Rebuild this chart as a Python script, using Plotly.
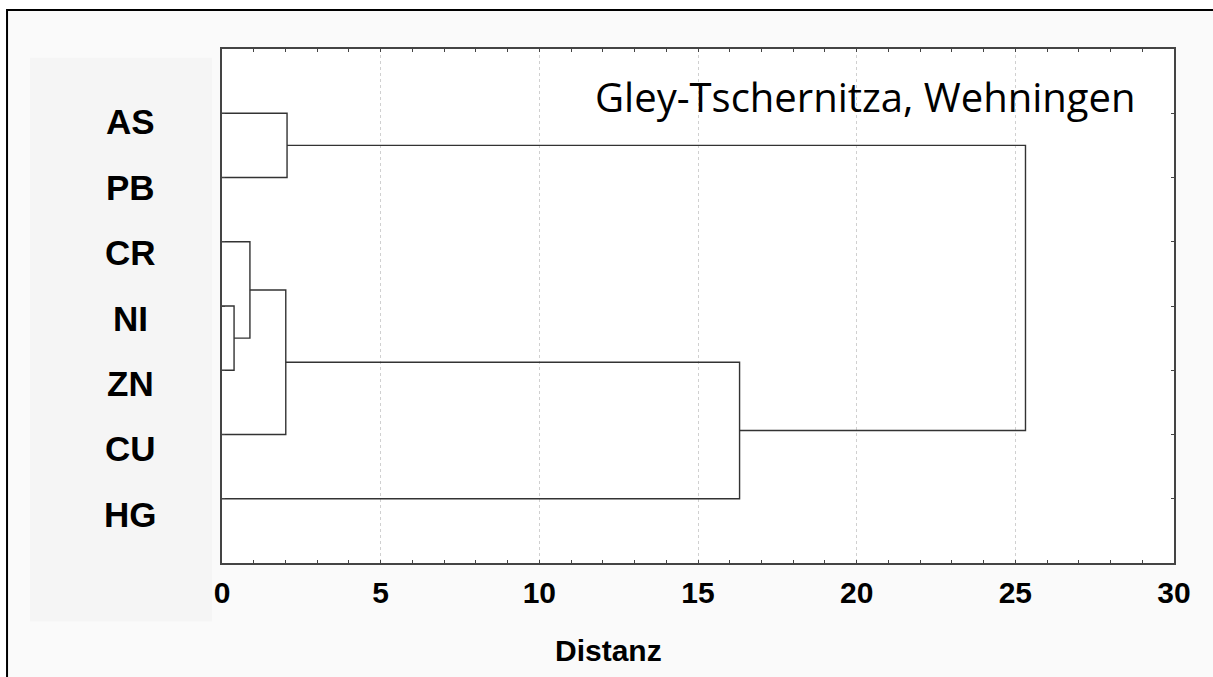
import plotly.graph_objects as go

# ---- data -------------------------------------------------------------
leaves = ["AS", "PB", "CR", "NI", "ZN", "CU", "HG"]
# agglomeration steps: node ids 0..6 are leaves, 7.. are clusters in order
link_a = [3, 2, 8, 0, 9, 10]
link_b = [4, 7, 5, 1, 6, 11]
link_dist = [0.38, 0.88, 2.01, 2.05, 16.31, 25.32]
x_ticks = [0, 5, 10, 15, 20, 25, 30]
title_text = "Gley-Tschernitza, Wehningen"
x_title = "Distanz"

# ---- dendrogram geometry ---------------------------------------------
n = len(leaves)
node_y = {i: float(i) for i in range(n)}
node_h = {i: 0.0 for i in range(n)}
xs, ys = [], []
for k, (a, b, d) in enumerate(zip(link_a, link_b, link_dist)):
    xs += [node_h[a], d, d, node_h[b], None]
    ys += [node_y[a], node_y[a], node_y[b], node_y[b], None]
    node_y[n + k] = (node_y[a] + node_y[b]) / 2
    node_h[n + k] = d

fig = go.Figure()
fig.add_trace(go.Scatter(x=xs, y=ys, mode="lines",
                         line=dict(color="#333333", width=1.4),
                         hoverinfo="skip", showlegend=False))

FONT_B = "Liberation Sans, Arial, sans-serif"

fig.update_layout(
    width=1213, height=677,
    margin=dict(l=222, r=39, t=49, b=114),
    paper_bgcolor="white",
    plot_bgcolor="rgba(0,0,0,0)",
    showlegend=False,
    xaxis=dict(
        range=[0, 30], tickvals=x_ticks, ticktext=[str(v) for v in x_ticks],
        ticks="inside", ticklen=3, tickwidth=1, tickcolor="#444",
        minor=dict(dtick=1, ticks="inside", ticklen=3, tickcolor="#444", showgrid=False),
        showline=True, linecolor="#444", linewidth=1.5, mirror="ticks",
        showgrid=True, gridcolor="#d0d0d0", griddash="dot", gridwidth=1,
        zeroline=False,
        tickfont=dict(family=FONT_B, size=30, color="black", weight="bold"),
        ticklabelstandoff=2,
    ),
    yaxis=dict(
        range=[n, -1], tickvals=list(range(n)),
        ticks="inside", ticklen=3, tickcolor="#444",
        showticklabels=False,
        showline=True, linecolor="#444", linewidth=1.5, mirror="ticks",
        showgrid=False, zeroline=False,
    ),
    yaxis2=dict(
        overlaying="y", range=[6.744, -1.116], showticklabels=False,
        showline=False, showgrid=False, zeroline=False, ticks="",
    ),
)

# backgrounds / frame
shapes = [
    dict(type="rect", xref="paper", yref="paper", x0=-0.2258, x1=1.2, y0=-0.4, y1=1.0759,
         fillcolor="#fafafa", line=dict(color="black", width=2), layer="below"),
    dict(type="rect", xref="paper", yref="paper", x0=-0.2017, x1=-0.0105, y0=-0.114, y1=0.983,
         fillcolor="#f5f5f5", line=dict(width=0), layer="below"),
    dict(type="rect", xref="paper", yref="paper", x0=0, x1=1, y0=0, y1=1,
         fillcolor="white", line=dict(width=0), layer="below"),
]
fig.update_layout(shapes=shapes)

# leaf labels
for i, lab in enumerate(leaves):
    fig.add_annotation(x=-0.0966, xref="paper", y=i, yref="y2", text=lab,
                       showarrow=False, xanchor="center", yanchor="middle",
                       font=dict(family=FONT_B, size=35, color="black", weight="bold"))

# axis title
fig.add_annotation(x=0.4055, xref="paper", y=-0.170, yref="paper", text=x_title,
                   showarrow=False, xanchor="center", yanchor="middle",
                   font=dict(family=FONT_B, size=30, color="black", weight="bold"))

# chart title
fig.add_annotation(x=0.390, xref="paper", y=0.907, yref="paper", text=title_text,
                   showarrow=False, xanchor="left", yanchor="middle",
                   font=dict(family="Open Sans, sans-serif", size=40, color="black"))

fig.write_html("out.html", config={"displayModeBar": False},
               post_script="document.body.style.margin='0px';")
